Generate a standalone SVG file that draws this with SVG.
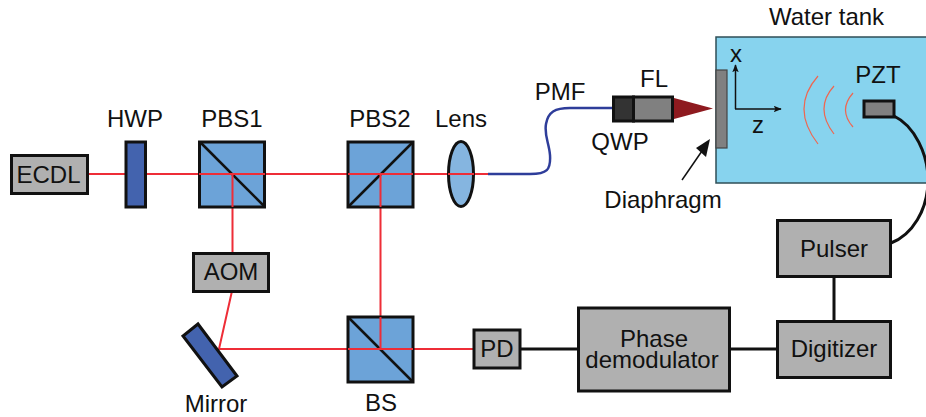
<svg xmlns="http://www.w3.org/2000/svg" width="926" height="417" viewBox="0 0 926 417">
<style>
text{font-family:"Liberation Sans",Arial,sans-serif;font-size:24px;fill:#111;text-anchor:middle}
.box{fill:#b0b0b0;stroke:#111;stroke-width:3}
.cube{fill:#6ca3d8;stroke:#111;stroke-width:3}
.dark{fill:#4363ae;stroke:#111;stroke-width:3}
.diag{stroke:#111;stroke-width:2.5;fill:none}
.red{stroke:#ee2d37;stroke-width:2;fill:none}
.wire{stroke:#111;stroke-width:3;fill:none}
.wave{stroke:#ef6650;stroke-width:1.2;fill:none}
.ax{stroke:#111;stroke-width:1.5;fill:none}
</style>
<defs>
<marker id="ah" viewBox="0 0 10 8" refX="9" refY="4" markerWidth="8" markerHeight="6.5" orient="auto" markerUnits="userSpaceOnUse"><path d="M0 0L10 4L0 8L2 4Z" fill="#111"/></marker>
</defs>
<g id="tank"><rect x="716" y="37" width="212" height="146" fill="#87d3ee" stroke="#2f4f57" stroke-width="1.5"/><text x="826.500" y="25">Water tank</text></g>
<g id="diaphragm"><rect x="716" y="70" width="11" height="78" fill="#808080" stroke="#444" stroke-width="1.2"/><text x="663" y="208">Diaphragm</text></g>
<g id="pmf-label"><text x="560" y="100">PMF</text></g>
<g id="axes"><path class="ax" d="M735.500 109V65" marker-end="url(#ah)"/><path class="ax" d="M735 109H781" marker-end="url(#ah)"/><text x="736" y="62">x</text><text x="758" y="133">z</text></g>
<g id="waves"><path class="wave" d="M818 76Q790 108 818 144"/><path class="wave" d="M834 86Q814 108 834 134"/><path class="wave" d="M853 93Q838 110 853 127"/></g>
<g id="connectors">
<path class="red" d="M87 174H488M232.500 174V253M232 291L219 349H474M380.500 174V349"/>
<path d="M488 174H530C547 174 551 170 550 155C549 143 544 135 546 124C548 112 555 108 570 108H613" fill="none" stroke="#2e3d9a" stroke-width="2.500"/>
<path class="wire" d="M520 349H578M730 349H777M834 277V321"/>
<path class="wire" d="M894 116C915 126 928 155 928 180C928 210 912 235 891 243"/>
<path d="M682 180L702 151" stroke="#111" stroke-width="1.500" fill="none"/><path d="M710 139L706 157L696 148Z" fill="#111"/>
</g>
<g id="ECDL"><rect class="box" x="11.500" y="155.500" width="76" height="38"/><text x="48.500" y="182.500">ECDL</text></g>
<g id="HWP"><rect class="dark" x="126" y="142" width="19.500" height="65"/><text x="135" y="127">HWP</text></g>
<g id="PBS1"><rect class="cube" x="199.500" y="142" width="65" height="65"/><path class="diag" d="M200 142L264 206"/><path class="red" d="M199 174H265M232.500 174V207"/><text x="232" y="127">PBS1</text></g>
<g id="PBS2"><rect class="cube" x="348" y="142" width="65" height="65"/><path class="diag" d="M349 206L412 143"/><path class="red" d="M348 174H413M380.500 174V207"/><text x="380" y="127">PBS2</text></g>
<g id="Lens"><ellipse cx="461" cy="174" rx="12.500" ry="32.500" fill="#85b5e0" stroke="#111" stroke-width="3"/><path class="red" d="M448 174H474"/><text x="461" y="127">Lens</text></g>
<g id="AOM"><rect class="box" x="193.500" y="253.500" width="75" height="38"/><text x="231" y="280">AOM</text></g>
<g id="Mirror"><path class="dark" d="M198 324L237 376L222 387L183 336Z"/><text x="216" y="411.500">Mirror</text></g>
<g id="BS"><rect class="cube" x="348" y="317" width="65" height="65"/><path class="diag" d="M349 318L412 381"/><path class="red" d="M348 349H413M380.500 317V349"/><text x="381" y="411">BS</text></g>
<g id="PD"><rect class="box" x="474" y="330" width="46" height="38"/><text x="497" y="357">PD</text></g>
<g id="demodulator"><rect class="box" x="578.500" y="308" width="151" height="83"/><text x="654" y="347">Phase</text><text x="652" y="368">demodulator</text></g>
<g id="Digitizer"><rect class="box" x="777.500" y="321.500" width="113" height="56"/><text x="834" y="357">Digitizer</text></g>
<g id="Pulser"><rect class="box" x="777.500" y="220.500" width="113" height="56"/><text x="834" y="257">Pulser</text></g>
<g id="QWP"><rect x="613.500" y="97" width="20" height="24" fill="#333" stroke="#111" stroke-width="3"/><text x="620" y="150">QWP</text></g>
<g id="FL"><rect x="633.500" y="97" width="39" height="24" fill="#808080" stroke="#111" stroke-width="3"/><path d="M674 98L713 108.500L674 119Z" fill="#8e1a1f"/><text x="654" y="87">FL</text></g>
<g id="PZT"><rect x="864" y="101" width="30" height="16" fill="#808080" stroke="#111" stroke-width="3"/><text x="878" y="83">PZT</text></g>
</svg>
